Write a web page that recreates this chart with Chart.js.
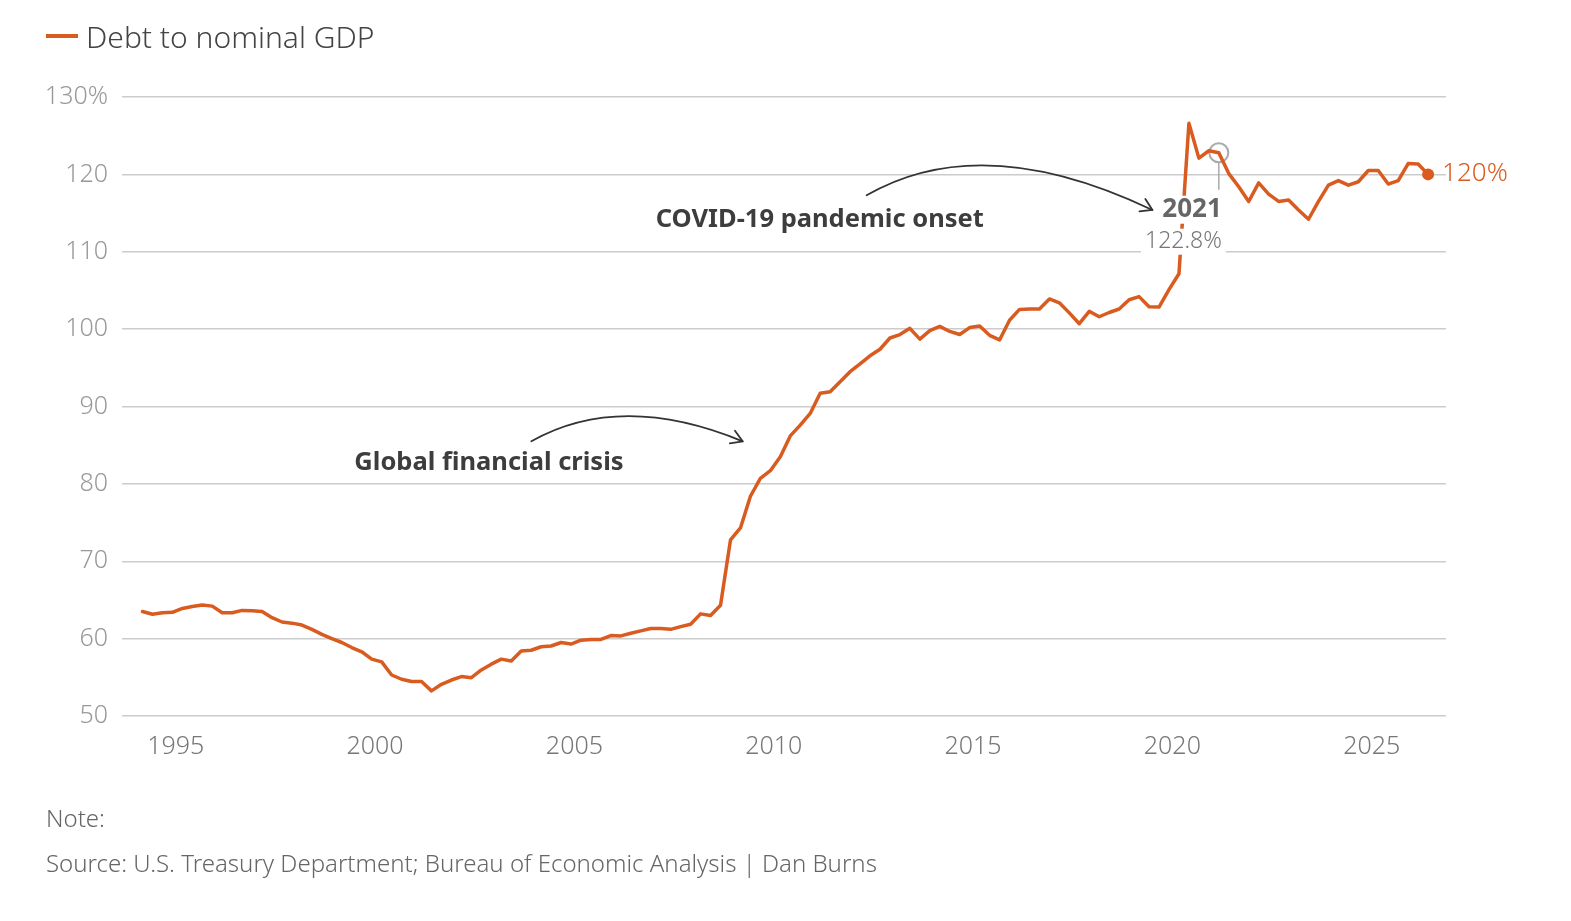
<!DOCTYPE html>
<html lang="en">
<head>
  <meta charset="UTF-8">
  <title>Debt to nominal GDP</title>
  <style>
    body { margin: 0; background: #fff; font-family: "Noto Sans", sans-serif; }
    #wrap { position: relative; width: 1571px; height: 921px; overflow: hidden; }
    #chart-box { position: absolute; left: 0; top: 0; width: 1571px; height: 921px; }
    .legend { position: absolute; left: 46px; top: 16px; height: 40px; display: flex; align-items: center;
              font-size: 30px; color: #444; font-weight: 300; }
    .legend i { display: inline-block; width: 32px; height: 4px; background: #d95b1f; margin-right: 8px; }
    .foot { position: absolute; left: 46px; font-size: 24px; line-height: 30px; color: #666; font-weight: 300; }
  </style>
</head>
<body>
  <div id="wrap">
    <div id="chart-box"><canvas id="debtChart"></canvas></div>
    <div class="legend"><i></i>Debt to nominal GDP</div>
    <div class="foot" style="top:803px">Note:</div>
    <div class="foot" style="top:848px">Source: U.S. Treasury Department; Bureau of Economic Analysis | Dan Burns</div>
  </div>

  <script src="https://cdn.jsdelivr.net/npm/chart.js"></script>
  <script>
    // quarters 1994 Q1 .. 2026 Q2
    const quarters = [];
    for (let yr = 1994; yr <= 2026; yr++) {
      for (let q = 1; q <= 4; q++) {
        if (yr === 2026 && q > 2) break;
        quarters.push(yr + ' Q' + q);
      }
    }

    // debt to nominal GDP, % (one row per year)
    const debtToGdp = [
      63.5, 63.15, 63.35, 63.4,    // 1994
      63.9, 64.15, 64.35, 64.2,    // 1995
      63.35, 63.35, 63.65, 63.6,   // 1996
      63.5, 62.7, 62.15, 62.0,     // 1997
      61.75, 61.2, 60.55, 60.0,    // 1998
      59.5, 58.85, 58.3, 57.35,    // 1999
      57.0, 55.3, 54.75, 54.45,    // 2000
      54.45, 53.25, 54.1, 54.65,   // 2001
      55.1, 54.95, 55.95, 56.7,    // 2002
      57.35, 57.1, 58.4, 58.5,     // 2003
      58.95, 59.05, 59.5, 59.3,    // 2004
      59.8, 59.9, 59.9, 60.4,      // 2005
      60.35, 60.7, 61.0, 61.3,     // 2006
      61.3, 61.2, 61.55, 61.85,    // 2007
      63.2, 63.0, 64.3, 72.75,     // 2008
      74.3, 78.4, 80.7, 81.7,      // 2009
      83.5, 86.2, 87.6, 89.1,      // 2010
      91.7, 91.9, 93.2, 94.5,      // 2011
      95.5, 96.55, 97.4, 98.85,    // 2012
      99.3, 100.1, 98.7, 99.8,     // 2013
      100.35, 99.7, 99.3, 100.2,   // 2014
      100.4, 99.2, 98.6, 101.15,   // 2015
      102.55, 102.6, 102.6, 103.9, // 2016
      103.4, 102.1, 100.7, 102.3,  // 2017
      101.6, 102.15, 102.6, 103.8, // 2018
      104.2, 102.9, 102.85, 105.1, // 2019
      107.15, 126.6, 122.1, 123.05,// 2020
      122.8, 120.1, 118.4, 116.5,  // 2021
      118.9, 117.45, 116.5, 116.7, // 2022
      115.4, 114.2, 116.5, 118.6,  // 2023
      119.2, 118.6, 119.05, 120.5, // 2024
      120.5, 118.75, 119.2, 121.4, // 2025
      121.35, 120.0                // 2026
    ];

    const xTickYears = [1995, 2000, 2005, 2010, 2015, 2020, 2025];
    const yTickValues = [50, 60, 70, 80, 90, 100, 110, 120, 130];
    const highlightQuarter = '2021 Q1';
    const highlightYear = '2021';

    // annotation anchors in data units: [year, percent]
    const notes = [
      { text: 'Global financial crisis', at: [1999.48, 82.7],
        arrow: [[2003.92, 85.5], [2006.16, 92.0], [2009.22, 85.5]] },
      { text: 'COVID-19 pandemic onset', at: [2007.04, 114.1],
        arrow: [[2012.33, 117.3], [2015.23, 125.9], [2019.5, 115.4]] }
    ];

    const ORANGE = '#d95b1f';
    const FONT = '"Noto Sans", sans-serif';

    function quarterToYear(label) {
      const parts = label.split(' Q');
      return Number(parts[0]) + (Number(parts[1]) - 1) / 4 + 0.165;
    }

    const points = quarters.map((q, i) => ({ x: quarterToYear(q), y: debtToGdp[i] }));
    const lastIdx = points.length - 1;
    const hiIdx = quarters.indexOf(highlightQuarter);

    function drawArrow(ctx, p0, c, p1) {
      ctx.beginPath();
      ctx.moveTo(p0.x, p0.y);
      ctx.quadraticCurveTo(c.x, c.y, p1.x, p1.y);
      ctx.stroke();
      const ang = Math.atan2(p1.y - c.y, p1.x - c.x);
      const len = 13, spread = 0.55;
      ctx.beginPath();
      ctx.moveTo(p1.x - len * Math.cos(ang - spread), p1.y - len * Math.sin(ang - spread));
      ctx.lineTo(p1.x, p1.y);
      ctx.lineTo(p1.x - len * Math.cos(ang + spread), p1.y - len * Math.sin(ang + spread));
      ctx.stroke();
    }

    const annotations = {
      id: 'annotations',
      afterDatasetsDraw(chart) {
        const { ctx } = chart;
        const xs = chart.scales.x, ys = chart.scales.y;
        const px = v => xs.getPixelForValue(v);
        const py = v => ys.getPixelForValue(v);
        ctx.save();

        // highlighted quarter: connector + labels on white boxes
        const hx = px(points[hiIdx].x), hy = py(points[hiIdx].y);
        ctx.strokeStyle = '#aaa';
        ctx.lineWidth = 1.5;
        ctx.beginPath();
        ctx.moveTo(hx, hy + 10);
        ctx.lineTo(hx, hy + 37);
        ctx.stroke();

        const right = hx + 3;
        ctx.textAlign = 'right';
        ctx.textBaseline = 'middle';
        ctx.font = '700 26px ' + FONT;
        let w = ctx.measureText(highlightYear).width;
        ctx.fillStyle = '#fff';
        ctx.fillRect(right - w - 4, hy + 43, w + 8, 28);
        ctx.fillStyle = '#666';
        ctx.fillText(highlightYear, right, hy + 57);

        const valText = points[hiIdx].y.toFixed(1) + '%';
        ctx.font = '300 23px ' + FONT;
        w = ctx.measureText(valText).width;
        ctx.fillStyle = '#fff';
        ctx.fillRect(right - w - 4, hy + 76, w + 8, 26);
        ctx.fillStyle = '#777';
        ctx.fillText(valText, right, hy + 89);

        // end value label
        const ex = px(points[lastIdx].x), ey = py(points[lastIdx].y);
        ctx.textAlign = 'left';
        ctx.font = '300 26px ' + FONT;
        ctx.fillStyle = ORANGE;
        ctx.fillText(Math.round(points[lastIdx].y) + '%', ex + 14, ey - 1);

        // event notes with curved arrows
        ctx.strokeStyle = '#333';
        ctx.lineWidth = 1.8;
        ctx.lineCap = 'round';
        ctx.lineJoin = 'round';
        notes.forEach(n => {
          ctx.font = '700 25.5px ' + FONT;
          ctx.fillStyle = '#3d3d3d';
          ctx.textAlign = 'left';
          ctx.fillText(n.text, px(n.at[0]), py(n.at[1]));
          const [a, c, b] = n.arrow.map(p => ({ x: px(p[0]), y: py(p[1]) }));
          drawArrow(ctx, a, c, b);
        });
        ctx.restore();
      }
    };

    new Chart(document.getElementById('debtChart'), {
      type: 'line',
      data: {
        datasets: [
          {
            label: 'Debt to nominal GDP',
            data: points,
            borderColor: ORANGE,
            borderWidth: 3.5,
            borderJoinStyle: 'round',
            borderCapStyle: 'round',
            tension: 0,
            pointRadius: c => (c.dataIndex === lastIdx ? 6 : 0),
            pointBackgroundColor: ORANGE,
            pointBorderWidth: 0
          },
          {
            label: highlightQuarter,
            data: [points[hiIdx]],
            showLine: false,
            pointRadius: 9.5,
            pointBorderColor: '#aaa',
            pointBorderWidth: 2,
            pointBackgroundColor: 'rgba(255,255,255,0)'
          }
        ]
      },
      options: {
        responsive: true,
        maintainAspectRatio: false,
        animation: false,
        layout: { padding: { top: 97, right: 125, bottom: 0, left: 0 } },
        plugins: { legend: { display: false }, tooltip: { enabled: false } },
        scales: {
          x: {
            type: 'linear',
            min: 1993.651,
            max: 2026.864,
            afterBuildTicks: s => { s.ticks = xTickYears.map(v => ({ value: v })); },
            afterFit: s => { s.height = 205; },
            grid: { display: false, drawTicks: false },
            border: { display: false },
            ticks: {
              padding: 16,
              color: '#777',
              font: { family: FONT, size: 25, weight: 300 },
              maxRotation: 0,
              autoSkip: false,
              callback: v => String(v)
            }
          },
          y: {
            min: 50,
            max: 130,
            afterBuildTicks: s => { s.ticks = yTickValues.map(v => ({ value: v })); },
            afterFit: s => { s.width = 122; },
            grid: { color: '#cccccc', lineWidth: 1.5, drawTicks: false },
            border: { display: false },
            ticks: {
              padding: 14,
              color: '#999',
              font: { family: FONT, size: 25, weight: 300 },
              callback: v => (v === 130 ? v + '%' : String(v))
            }
          }
        }
      },
      plugins: [annotations]
    });
  </script>
</body>
</html>
